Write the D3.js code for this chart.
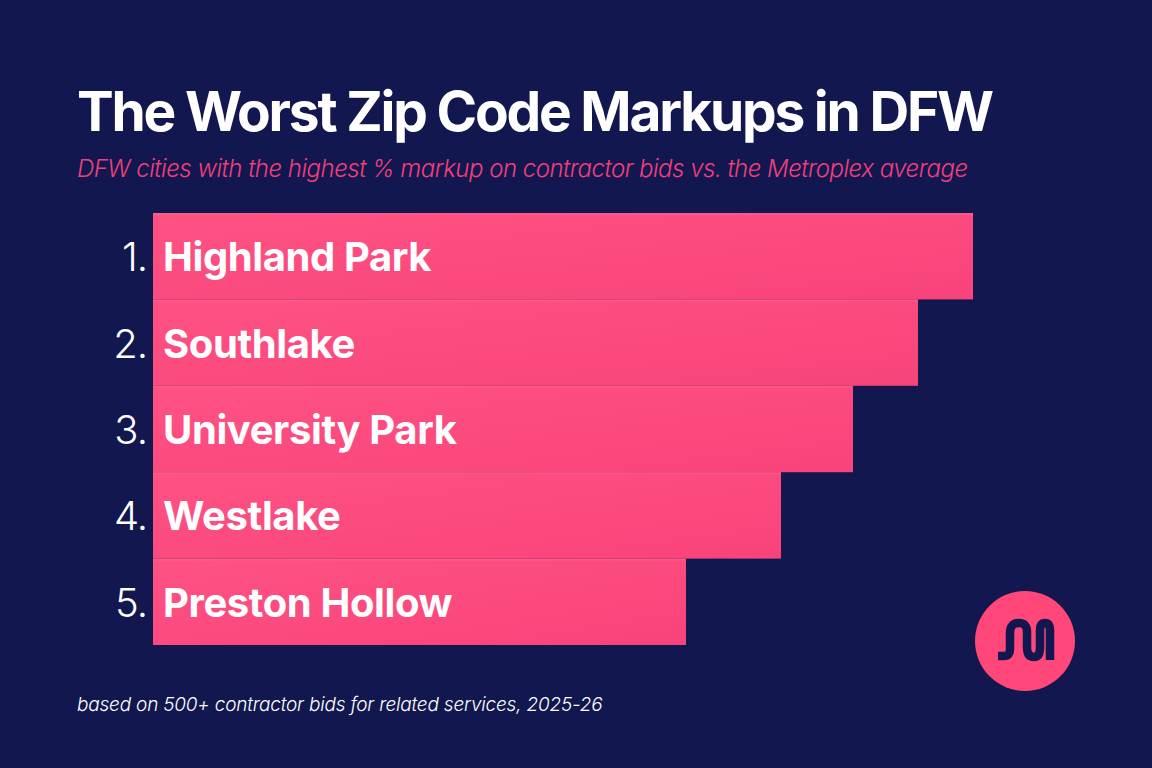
<!DOCTYPE html>
<html>
<head>
<meta charset="utf-8">
<script src="https://cdn.jsdelivr.net/npm/d3@7"></script>
<style>
  html, body { margin: 0; padding: 0; background: #13174f; }
  svg { display: block; }
</style>
</head>
<body>
<div id="chart-container"></div>
<script>
// data (bar lengths, relative markup)
const ranks = ["1.", "2.", "3.", "4.", "5."];
const cities = ["Highland Park", "Southlake", "University Park", "Westlake", "Preston Hollow"];
const markup = [82, 76.5, 70, 62.8, 53.3];

const width = 1152;
const height = 768;
const margin = { top: 213, right: 179, bottom: 123, left: 153 };

const svg = d3.select("#chart-container")
  .append("svg")
  .attr("width", width)
  .attr("height", height);

svg.append("rect")
  .attr("width", width)
  .attr("height", height)
  .attr("fill", "#13174f");

const defs = svg.append("defs");
const grad = defs.append("linearGradient")
  .attr("id", "barGrad")
  .attr("x1", "0%").attr("y1", "0%")
  .attr("x2", "100%").attr("y2", "100%");
grad.append("stop").attr("offset", "0%").attr("stop-color", "#ff5283");
grad.append("stop").attr("offset", "100%").attr("stop-color", "#f8437a");

const xScale = d3.scaleLinear()
  .domain([0, d3.max(markup)])
  .range([margin.left, width - margin.right]);

const yScale = d3.scaleBand()
  .domain(cities)
  .range([margin.top, height - margin.bottom])
  .padding(0);

// bars
svg.selectAll(".bar")
  .data(cities)
  .enter()
  .append("rect")
  .attr("class", "bar")
  .attr("x", xScale(0))
  .attr("y", d => yScale(d))
  .attr("width", (d, i) => xScale(markup[i]) - xScale(0))
  .attr("height", yScale.bandwidth())
  .attr("fill", "url(#barGrad)");

// faint separator line at top of each bar
svg.selectAll(".bar-top")
  .data(cities)
  .enter()
  .append("rect")
  .attr("x", xScale(0))
  .attr("y", d => yScale(d))
  .attr("width", (d, i) => xScale(markup[i]) - xScale(0))
  .attr("height", 2)
  .attr("fill", "#ff6a93")
  .attr("opacity", 0.4);

// rank numbers
svg.selectAll(".rank")
  .data(cities)
  .enter()
  .append("text")
  .attr("class", "rank")
  .attr("x", xScale(0) - 6)
  .attr("y", d => yScale(d) + yScale.bandwidth() / 2 + 15)
  .attr("text-anchor", "end")
  .attr("font-family", "Inter, 'Noto Sans', sans-serif")
  .attr("font-weight", 300)
  .attr("font-size", "40px")
  .attr("letter-spacing", "-1px")
  .attr("fill", "#ffffff")
  .text((d, i) => ranks[i]);

// city labels
svg.selectAll(".city")
  .data(cities)
  .enter()
  .append("text")
  .attr("class", "city")
  .attr("x", xScale(0) + 10)
  .attr("y", d => yScale(d) + yScale.bandwidth() / 2 + 15)
  .attr("font-family", "Inter, 'Noto Sans', sans-serif")
  .attr("font-weight", 700)
  .attr("font-size", "40px")
  .attr("letter-spacing", "-0.4px")
  .attr("fill", "#ffffff")
  .text(d => d);

// title
svg.append("text")
  .attr("x", 77)
  .attr("y", 131)
  .attr("font-family", "Inter, 'Noto Sans', sans-serif")
  .attr("font-weight", 700)
  .attr("font-size", "55px")
  .attr("letter-spacing", "-2.2px")
  .attr("fill", "#ffffff")
  .text("The Worst Zip Code Markups in DFW");

// subtitle
svg.append("text")
  .attr("x", 77)
  .attr("y", 177)
  .attr("font-family", "Inter, 'Noto Sans', sans-serif")
  .attr("font-style", "italic")
  .attr("font-weight", 300)
  .attr("font-size", "24px")
  .attr("letter-spacing", "-0.5px")
  .attr("fill", "#f0407a")
  .text("DFW cities with the highest % markup on contractor bids vs. the Metroplex average");

// footer
svg.append("text")
  .attr("x", 77)
  .attr("y", 711)
  .attr("font-family", "Inter, 'Noto Sans', sans-serif")
  .attr("font-style", "italic")
  .attr("font-weight", 300)
  .attr("font-size", "19px")
  .attr("letter-spacing", "-0.2px")
  .attr("fill", "#ffffff")
  .text("based on 500+ contractor bids for related services, 2025-26");

// logo
const logo = svg.append("g").attr("transform", "translate(1025,641)");
logo.append("circle").attr("r", 50).attr("fill", "#ff4779");
logo.append("path")
  .attr("d", "M-27,15 L-21,15 Q-15,15 -15,8 L-15,-8 Q-15,-18 -6,-18 Q2,-18 2,-9 L2,6 Q2,16 9,16 Q15,16 15,6 L15,-10 Q15,-18 20,-18 Q25,-18 25,-10 L25,19")
  .attr("fill", "none")
  .attr("stroke", "#13174f")
  .attr("stroke-width", 8.5)
  .attr("stroke-linecap", "butt")
  .attr("stroke-linejoin", "round");
</script>
</body>
</html>
